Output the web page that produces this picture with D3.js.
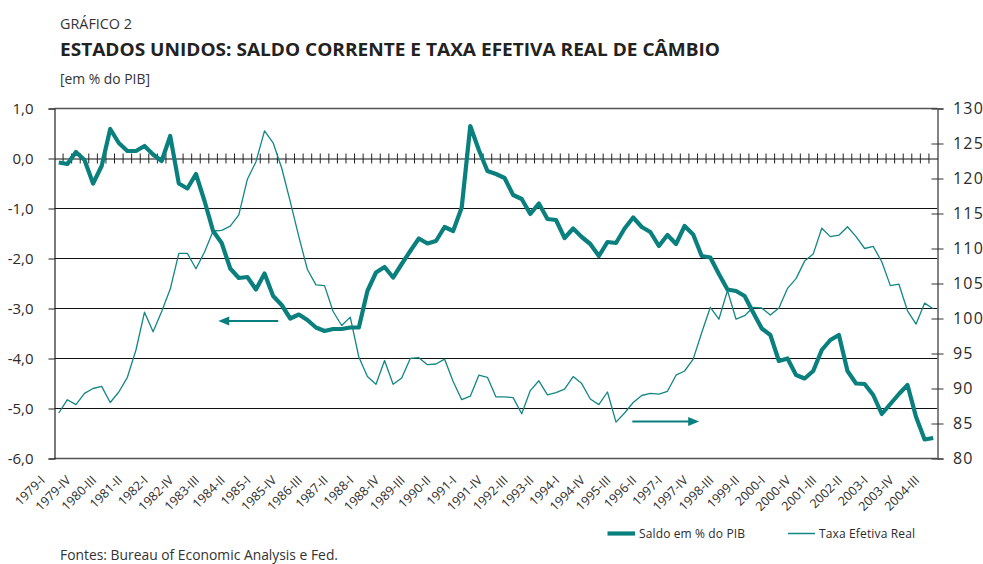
<!DOCTYPE html>
<html><head><meta charset="utf-8">
<script src="https://cdn.jsdelivr.net/npm/d3@7"></script>
<style>
html,body{margin:0;padding:0;background:#fff;}
svg{display:block;font-family:"Open Sans",sans-serif;}
</style></head><body>
<svg id="chart" width="983" height="564"></svg>
<script>
// ---------- DATA ----------
const romans = ["I", "II", "III", "IV"];
const categories = [];
for (let y = 1979; y <= 2004; y++) romans.forEach(r => categories.push(y + "-" + r));
categories.splice(103); // 1979-I .. 2004-III

// Saldo em % do PIB (left axis)
const saldo = [
  -0.08, -0.11, 0.13, -0.03, -0.50, -0.15, 0.59, 0.31, 0.15, 0.15,
  0.25, 0.08, -0.05, 0.45, -0.50, -0.60, -0.31, -0.85, -1.45, -1.69,
  -2.20, -2.39, -2.37, -2.62, -2.30, -2.75, -2.93, -3.20, -3.12, -3.23,
  -3.38, -3.45, -3.41, -3.41, -3.38, -3.38, -2.65, -2.28, -2.17, -2.38,
  -2.11, -1.85, -1.60, -1.70, -1.65, -1.37, -1.45, -0.98, 0.65, 0.17,
  -0.25, -0.31, -0.39, -0.73, -0.81, -1.11, -0.90, -1.21, -1.23, -1.59,
  -1.40, -1.57, -1.71, -1.95, -1.67, -1.69, -1.40, -1.18, -1.37, -1.47,
  -1.75, -1.53, -1.71, -1.35, -1.52, -1.95, -1.98, -2.31, -2.62, -2.65,
  -2.75, -3.08, -3.40, -3.53, -4.05, -4.00, -4.33, -4.40, -4.25, -3.83,
  -3.63, -3.53, -4.25, -4.50, -4.51, -4.73, -5.11, -4.91, -4.71, -4.53,
  -5.17, -5.62, -5.59
];

// Taxa Efetiva Real (right axis)
const taxa = [
  86.5, 88.4, 87.7, 89.3, 90.0, 90.3, 88.0, 89.5, 91.6, 95.5,
  100.9, 98.1, 101.0, 104.2, 109.3, 109.3, 107.1, 109.5, 112.5, 112.6,
  113.2, 114.8, 119.9, 122.4, 126.8, 125.1, 121.5, 116.7, 111.7, 107.0,
  104.8, 104.7, 101.0, 99.0, 100.2, 94.5, 91.7, 90.6, 94.0, 90.6,
  91.5, 94.3, 94.4, 93.4, 93.5, 94.2, 91.0, 88.4, 88.9, 91.9,
  91.6, 88.8, 88.8, 88.7, 86.4, 89.7, 91.1, 89.1, 89.4, 89.9,
  91.7, 90.7, 88.5, 87.7, 89.5, 85.2, 86.5, 88.0, 89.0, 89.3,
  89.2, 89.6, 91.9, 92.5, 94.2, 98.0, 101.6, 99.9, 104.0, 99.9,
  100.4, 101.6, 101.5, 100.5, 101.5, 104.3, 105.7, 108.2, 109.2, 112.9,
  111.7, 111.9, 113.1, 111.7, 110.0, 110.3, 108.1, 104.7, 104.9, 101.1,
  99.2, 102.2, 101.4
];

const leftTicks = [1, 0, -1, -2, -3, -4, -5, -6];
const rightTicks = [130, 125, 120, 115, 110, 105, 100, 95, 90, 85, 80];
const gridValues = [-1, -2, -3, -4, -5];
const seriesNames = ["Saldo em % do PIB", "Taxa Efetiva Real"];
// annotation arrows: [from category index, to category index, value]
const arrowLeft = [25.6, 18.6, -3.25];
const arrowRight = [66.9, 74.7, 85.3];

// ---------- LAYOUT ----------
const L = 54.5, R = 937.5, T = 108.5, B = 458.5;
const teal = "#0a807e", teal2 = "#138784", ink = "#2b2b2b";
const svg = d3.select("#chart");

const x = d3.scaleBand().domain(categories).range([L, R]).padding(0);
const bw = x.bandwidth();
const cx = c => x(c) + bw / 2;
const xi = i => L + bw * (i + 0.5);
const yL = d3.scaleLinear().domain([-6, 1]).range([B, T]);
const yR = d3.scaleLinear().domain([80, 130]).range([B, T]);

// titles
svg.append("text").attr("x", 60).attr("y", 29).attr("font-size", 15).attr("fill", "#333")
  .attr("textLength", 72).attr("lengthAdjust", "spacingAndGlyphs").text("GRÁFICO 2");
svg.append("text").attr("x", 60).attr("y", 56).attr("font-size", 17.5).attr("font-weight", 700).attr("fill", "#222")
  .attr("textLength", 660).attr("lengthAdjust", "spacingAndGlyphs")
  .text("ESTADOS UNIDOS: SALDO CORRENTE E TAXA EFETIVA REAL DE CÂMBIO");
svg.append("text").attr("x", 60).attr("y", 84).attr("font-size", 15).attr("fill", "#333")
  .attr("textLength", 90).attr("lengthAdjust", "spacingAndGlyphs").text("[em % do PIB]");

// gridlines
svg.append("g").selectAll("line").data(gridValues).join("line")
  .attr("x1", L).attr("x2", R).attr("y1", d => yL(d)).attr("y2", d => yL(d))
  .attr("stroke", "#111").attr("stroke-width", 1);
svg.append("g").selectAll("line").data([1, -6]).join("line")
  .attr("x1", L).attr("x2", R).attr("y1", d => yL(d)).attr("y2", d => yL(d))
  .attr("stroke", "#555").attr("stroke-width", 1.6);

// left axis
const fmt = d => d.toFixed(1).replace(".", ",");
const gl = svg.append("g").attr("transform", `translate(${L},0)`)
  .call(d3.axisLeft(yL).tickValues(leftTicks).tickSize(6).tickPadding(15).tickFormat(fmt));
gl.select(".domain").attr("stroke", "#222").attr("stroke-width", 1.2);
gl.selectAll(".tick line").attr("stroke", "#222");
gl.selectAll("text").attr("font-size", 15).attr("fill", ink).attr("font-family", "Open Sans");

// right axis
const gr = svg.append("g").attr("transform", `translate(${R},0)`)
  .call(d3.axisRight(yR).tickValues(rightTicks).tickSize(6).tickPadding(9.5));
gr.select(".domain").attr("stroke", "#666").attr("stroke-width", 1.6);
gr.selectAll(".tick line").attr("x1", -6).attr("stroke", "#333");
gr.selectAll("text").attr("font-size", 16).attr("fill", ink).attr("letter-spacing", 1.2).attr("font-family", "Open Sans");

// zero category axis
const gx = svg.append("g").attr("transform", `translate(0,${yL(0)})`)
  .call(d3.axisBottom(x).tickSize(0).tickFormat(""));
gx.select(".domain").attr("stroke", "#111").attr("stroke-width", 1.2);
gx.selectAll(".tick").remove();
gx.selectAll("line.qt").data(categories.slice(1)).join("line").attr("class", "qt")
  .attr("x1", d => x(d)).attr("x2", d => x(d)).attr("y1", -5).attr("y2", 5)
  .attr("stroke", "#222").attr("stroke-width", 1);

// x labels
svg.append("g").selectAll("text").data(categories.filter((c, i) => i % 3 === 0)).join("text")
  .attr("transform", d => `translate(${cx(d) - 13},${481}) rotate(-45)`)
  .attr("text-anchor", "end").attr("font-size", 12.5).attr("fill", ink).text(d => d);

// lines
const lineL = d3.line().x((d, i) => cx(categories[i])).y(d => yL(d));
const lineR = d3.line().x((d, i) => cx(categories[i])).y(d => yR(d));
svg.append("path").datum(taxa).attr("d", lineR).attr("fill", "none")
  .attr("stroke", teal2).attr("stroke-width", 1.3).attr("stroke-linejoin", "round");
svg.append("path").datum(saldo).attr("d", lineL).attr("fill", "none")
  .attr("stroke", teal).attr("stroke-width", 4.2).attr("stroke-linejoin", "round");

// arrows
function arrow(x1, x2, y) {
  const dir = Math.sign(x2 - x1);
  svg.append("line").attr("x1", x1).attr("x2", x2 - dir * 9).attr("y1", y).attr("y2", y)
    .attr("stroke", teal).attr("stroke-width", 2);
  svg.append("path").attr("d", `M${x2},${y} L${x2 - dir * 11},${y - 4.5} L${x2 - dir * 11},${y + 4.5} Z`)
    .attr("fill", teal);
}
arrow(xi(arrowLeft[0]), xi(arrowLeft[1]), yL(arrowLeft[2]));
arrow(xi(arrowRight[0]), xi(arrowRight[1]), yR(arrowRight[2]));

// legend
const ly = 533.5;
svg.append("line").attr("x1", 607.5).attr("x2", 635).attr("y1", ly).attr("y2", ly)
  .attr("stroke", teal).attr("stroke-width", 4.2);
svg.append("text").attr("x", 639).attr("y", ly + 4.5).attr("font-size", 12).attr("fill", ink)
  .attr("textLength", 106).attr("lengthAdjust", "spacing").text(seriesNames[0]);
svg.append("line").attr("x1", 788).attr("x2", 815).attr("y1", ly).attr("y2", ly)
  .attr("stroke", teal2).attr("stroke-width", 1.5);
svg.append("text").attr("x", 819).attr("y", ly + 4.5).attr("font-size", 12).attr("fill", ink)
  .attr("textLength", 96).attr("lengthAdjust", "spacing").text(seriesNames[1]);

// source
svg.append("text").attr("x", 60).attr("y", 559.5).attr("font-size", 14.5).attr("fill", "#333")
  .attr("textLength", 278).attr("lengthAdjust", "spacingAndGlyphs")
  .text("Fontes: Bureau of Economic Analysis e Fed.");
</script>
</body></html>
